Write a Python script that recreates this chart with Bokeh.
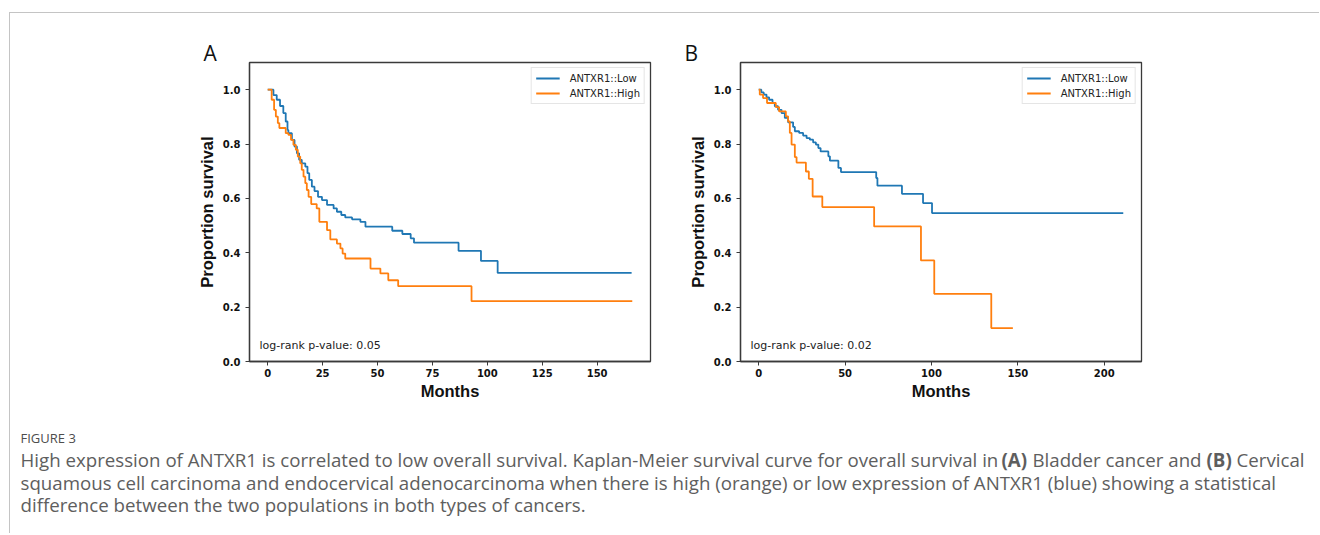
from bokeh.plotting import figure
from bokeh.layouts import column, row
from bokeh.models import FixedTicker, Label, Range1d, NumeralTickFormatter, Title
from bokeh.embed import file_html
from bokeh.resources import INLINE
from bokeh.core.properties import value

# ---------------- data ----------------
series_labels = ["ANTXR1::Low", "ANTXR1::High"]
panel_letters = ["A", "B"]
pvalue_texts = ["log-rank p-value: 0.05", "log-rank p-value: 0.02"]
x_axis_label = "Months"
y_axis_label = "Proportion survival"

# Panel A (Bladder cancer)
a_low_t = [0, 2.6, 4.1, 5.6, 7.1, 8.2, 9.0, 9.4, 11.0, 12.2, 13.3, 14.3, 15.5, 17.1, 18.1, 18.9,
           20.1, 21.3, 22.9, 24.7, 27.0, 30.0, 31.5, 33.5, 35.3, 38.4, 42.2, 44.5, 56.7, 61.3,
           65.1, 66.6, 86.9, 97.1, 104.7, 165.7]
a_low_s = [1.0, 0.98, 0.963, 0.94, 0.914, 0.883, 0.852, 0.84, 0.815, 0.791, 0.766, 0.742, 0.729,
           0.717, 0.693, 0.668, 0.643, 0.627, 0.606, 0.594, 0.576, 0.563, 0.551, 0.539, 0.530,
           0.523, 0.514, 0.496, 0.481, 0.469, 0.453, 0.437, 0.407, 0.370, 0.326, 0.326]
a_high_t = [0, 1.8, 2.9, 3.7, 4.6, 5.3, 8.2, 9.4, 10.6, 11.7, 12.8, 13.7, 14.8, 15.5, 16.3, 17.1,
            17.8, 18.6, 19.8, 22.3, 23.5, 27.0, 28.5, 31.5, 33.1, 34.1, 35.3, 46.8, 51.3, 54.9,
            59.4, 92.8, 166.0]
a_high_s = [1.0, 0.963, 0.926, 0.901, 0.877, 0.859, 0.84, 0.834, 0.815, 0.797, 0.779, 0.754,
            0.729, 0.705, 0.680, 0.656, 0.631, 0.606, 0.579, 0.563, 0.514, 0.483, 0.449, 0.434,
            0.416, 0.397, 0.379, 0.342, 0.324, 0.299, 0.277, 0.222, 0.222]

# Panel B (Cervical cancer)
b_low_t = [0, 1.5, 2.9, 4.5, 6.0, 8.0, 9.3, 11.2, 13.2, 15.1, 17.0, 19.9, 20.9, 23.4, 25.7, 27.7,
           29.6, 31.5, 33.1, 34.5, 35.8, 40.3, 41.2, 46.1, 47.6, 68.0, 68.7, 82.9, 95.1, 100.3, 211.0]
b_low_s = [1.0, 0.99, 0.982, 0.972, 0.963, 0.951, 0.939, 0.926, 0.914, 0.896, 0.880, 0.863, 0.847,
           0.841, 0.831, 0.822, 0.816, 0.806, 0.798, 0.785, 0.773, 0.755, 0.739, 0.712, 0.697,
           0.675, 0.647, 0.617, 0.583, 0.546, 0.546]
b_high_t = [0, 0.6, 2.5, 4.8, 9.9, 11.8, 15.7, 17.0, 18.0, 19.0, 20.9, 21.9, 27.3, 29.0, 31.2,
            36.8, 66.8, 93.9, 101.6, 134.6, 147.1]
b_high_s = [1.0, 0.982, 0.969, 0.951, 0.936, 0.920, 0.902, 0.883, 0.841, 0.798, 0.752, 0.732,
            0.699, 0.672, 0.607, 0.568, 0.497, 0.372, 0.249, 0.123, 0.123]

a_xticks = [0, 25, 50, 75, 100, 125, 150]
b_xticks = [0, 50, 100, 150, 200]
y_ticks = [0.0, 0.2, 0.4, 0.6, 0.8, 1.0]
y_max = 1.1

caption_head = "FIGURE 3"
caption_l1 = ["High expression of ANTXR1 is correlated to low overall survival. Kaplan-Meier survival curve for overall survival in",
              "(A)", "Bladder cancer and", "(B)", "Cervical"]
caption_l1_bold = [False, True, False, True, False]
caption_l2 = "squamous cell carcinoma and endocervical adenocarcinoma when there is high (orange) or low expression of ANTXR1 (blue) showing a statistical"
caption_l3 = "difference between the two populations in both types of cancers."

# ---------------- styling ----------------
BLUE = "#1f77b4"
ORANGE = "#ff7f0e"
SPINE = "#3a3a3a"
BORDER = "#c4c4c4"
FW, FH = 401, 299
PANEL_H = 411
TOP_B = 49
BOT_B = PANEL_H - TOP_B - FH


def panel(letter, low_t, low_s, high_t, high_s, xticks, ptext, width, mbl, mbr, letter_dx):
    tmax = max(max(low_t), max(high_t))
    x0, x1 = -0.05 * tmax, 1.05 * tmax
    p = figure(width=width, height=PANEL_H, output_backend="svg", toolbar_location=None,
               x_range=Range1d(x0, x1), y_range=Range1d(0, y_max),
               min_border_left=mbl, min_border_right=mbr,
               min_border_top=TOP_B, min_border_bottom=BOT_B)
    p.title = Title(text=letter, align="left", offset=-letter_dx, standoff=-9,
                    text_font="Open Sans", text_font_size="21px",
                    text_font_style="normal", text_color="#111111")
    p.grid.visible = False
    p.outline_line_color = SPINE
    p.outline_line_width = 1.3
    p.outline_line_alpha = 1.0
    p.background_fill_color = "white"
    p.border_fill_color = "white"

    p.step(low_t, low_s, mode="after", line_color=BLUE, line_width=1.8,
           legend_label=series_labels[0])
    p.step(high_t, high_s, mode="after", line_color=ORANGE, line_width=1.8,
           legend_label=series_labels[1])

    p.xaxis.ticker = FixedTicker(ticks=xticks)
    p.yaxis.ticker = FixedTicker(ticks=y_ticks)
    p.yaxis.formatter = NumeralTickFormatter(format="0.0")
    p.xaxis.axis_label = x_axis_label
    p.yaxis.axis_label = y_axis_label
    for ax in (p.xaxis[0], p.yaxis[0]):
        ax.major_label_text_font = "DejaVu Sans"
        ax.major_label_text_font_style = "bold"
        ax.major_label_text_font_size = "10px"
        ax.major_label_text_color = "#111111"
        ax.axis_label_text_font = "Liberation Sans"
        ax.axis_label_text_font_style = "bold"
        ax.axis_label_text_font_size = "16.5px"
        ax.axis_label_text_color = "#111111"
        ax.major_tick_out = 4
        ax.major_tick_in = 0
        ax.minor_tick_out = 0
        ax.minor_tick_in = 0
        ax.major_tick_line_color = SPINE
        ax.major_tick_line_width = 1
        ax.axis_line_color = SPINE
        ax.axis_line_width = 1.3
    p.xaxis.major_label_standoff = 3
    p.xaxis.axis_label_standoff = 2
    p.yaxis.major_label_standoff = 5
    p.yaxis.axis_label_standoff = 4

    lg = p.legend[0]
    lg.location = "top_right"
    lg.margin = 5
    lg.padding = 4
    lg.spacing = 3
    lg.glyph_width = 24
    lg.glyph_height = 12
    lg.label_height = 12
    lg.label_standoff = 10
    lg.label_text_font = "DejaVu Sans"
    lg.label_text_font_size = "10px"
    lg.label_text_color = "#222222"
    lg.border_line_color = "#cccccc"
    lg.border_line_width = 1
    lg.background_fill_alpha = 0.85

    pxpu_y = FH / y_max
    p.add_layout(Label(x=x0, x_offset=10, y=16 / pxpu_y, text=ptext,
                       text_font="DejaVu Sans", text_font_size="11px",
                       text_color="#222222", text_baseline="middle", text_align="left"))
    return p


def blank(w, h):
    f = figure(width=w, height=h, output_backend="svg", toolbar_location=None,
               x_range=Range1d(0, w), y_range=Range1d(h, 0),
               x_axis_type=None, y_axis_type=None, min_border=0)
    f.grid.visible = False
    f.outline_line_color = None
    f.background_fill_color = "white"
    f.border_fill_color = "white"
    return f


INNER_W = 1309
A_W = 670
B_W = INNER_W - A_W
figA = panel(panel_letters[0], a_low_t, a_low_s, a_high_t, a_high_s, a_xticks, pvalue_texts[0],
             width=A_W, mbl=239, mbr=A_W - 239 - FW, letter_dx=46)
figB = panel(panel_letters[1], b_low_t, b_low_s, b_high_t, b_high_s, b_xticks, pvalue_texts[1],
             width=B_W, mbl=60, mbr=B_W - 60 - FW, letter_dx=56)

CAP_H = 109
cap = blank(INNER_W, CAP_H)
TX = 10
cap.text(x=[TX], y=[13], text=[caption_head], text_font=value("Open Sans"),
         text_font_size="13px", text_color="#4d4d4d", text_baseline="middle")
l1_x = [TX, 991, 1022, 1196, 1226]
for seg, bold, xx in zip(caption_l1, caption_l1_bold, l1_x):
    cap.text(x=[xx], y=[35], text=[seg], text_font=value("Open Sans"),
             text_font_size="18.7px", text_color="#5e5e5e", text_baseline="middle",
             text_font_style="bold" if bold else "normal")
cap.text(x=[TX], y=[58], text=[caption_l2], text_font=value("Open Sans"),
         text_font_size="18.7px", text_color="#5e5e5e", text_baseline="middle")
cap.text(x=[TX], y=[80], text=[caption_l3], text_font=value("Open Sans"),
         text_font_size="18.7px", text_color="#5e5e5e", text_baseline="middle")

layout = column(row(figA, figB), cap, margin=(12, 0, 0, 9),
                styles={"border-top": "1px solid " + BORDER, "border-left": "1px solid " + BORDER})
open("out.html", "w").write(file_html(layout, INLINE))
